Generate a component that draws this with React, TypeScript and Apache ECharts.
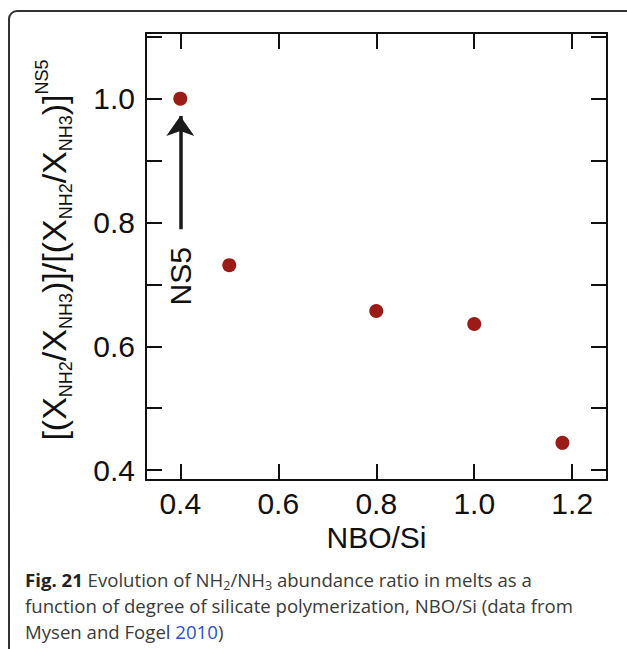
import React, { useEffect, useRef } from "react";
import * as echarts from "echarts";

// Data
const nboSi = [0.4, 0.5, 0.8, 1.0, 1.18];
const ratio = [1.0, 0.731, 0.657, 0.636, 0.444];
const xTickLabels = ["0.4", "0.6", "0.8", "1.0", "1.2"];
const yTickLabels = ["0.4", "0.6", "0.8", "1.0"];
const refLabel = "NS5";
const refX = 0.4;
const arrowFromY = 0.789;
const arrowToY = 0.972;
const refLabelY = 0.713;

const FONT = "'Liberation Sans', Arial, Helvetica, sans-serif";
const CAP_FONT = "'Open Sans', 'Noto Sans', sans-serif";

export default function App() {
  const ref = useRef<HTMLDivElement>(null);
  useEffect(() => {
    const chart = echarts.init(ref.current as HTMLDivElement, null, { renderer: "svg" });
    const xMin = 0.33, xMax = 1.271, yMin = 0.384, yMax = 1.106;
    const fmt = (list: string[]) => (v: number) => {
      const s = v.toFixed(1);
      return list.includes(s) && Math.abs(v - Number(s)) < 1e-6 ? s : "";
    };
    const axisLine = { show: true, lineStyle: { color: "#111", width: 2 } };
    const axisTick = { show: true, inside: true, length: 16, lineStyle: { color: "#111", width: 2 } };
    const labelStyle = { fontSize: 30, fontFamily: FONT, color: "#111" };

    chart.setOption({
      animation: false,
      backgroundColor: "#fff",
      grid: { left: 146, right: 20, top: 33, bottom: 169 },
      xAxis: [
        {
          type: "value", position: "bottom", min: xMin, max: xMax, splitNumber: 5,
          axisLine, axisTick, splitLine: { show: false },
          axisLabel: { ...labelStyle, margin: 8, formatter: fmt(xTickLabels) },
          name: "NBO/Si", nameLocation: "middle", nameGap: 33,
          nameTextStyle: { fontSize: 30, fontFamily: FONT, color: "#111" },
        },
        {
          type: "value", position: "top", min: xMin, max: xMax, splitNumber: 5,
          axisLine, axisTick, splitLine: { show: false }, axisLabel: { show: false },
        },
      ],
      yAxis: [
        {
          type: "value", position: "left", min: yMin, max: yMax, splitNumber: 7,
          axisLine, axisTick, splitLine: { show: false },
          axisLabel: { ...labelStyle, margin: 11, formatter: fmt(yTickLabels) },
        },
        {
          type: "value", position: "right", min: yMin, max: yMax, splitNumber: 7,
          axisLine, axisTick, splitLine: { show: false }, axisLabel: { show: false },
        },
      ],
      series: [
        {
          type: "scatter",
          data: nboSi.map((x, i) => [x, ratio[i]]),
          symbol: "circle",
          symbolSize: 14,
          itemStyle: { color: "#9b1c17", opacity: 1 },
          silent: true,
          markLine: {
            silent: true,
            symbol: ["none", "arrow"],
            symbolSize: [21, 20],
            lineStyle: { color: "#1a1a1a", width: 3.5, type: "solid" },
            label: { show: false },
            emphasis: { disabled: true },
            data: [[{ coord: [refX, arrowFromY] }, { coord: [refX, arrowToY] }]],
          },
          markPoint: {
            silent: true,
            symbol: "circle",
            symbolSize: 0,
            label: {
              show: true, formatter: refLabel, rotate: 90, fontSize: 30,
              fontFamily: FONT, color: "#111", position: "inside",
            },
            data: [{ coord: [refX, refLabelY] }],
          },
        },
      ],
      graphic: [
        {
          type: "rect", silent: true, z: -10,
          shape: { x: 9, y: 11, width: 700, height: 700, r: 8 },
          style: { fill: "none", stroke: "#333", lineWidth: 2 },
        },
        {
          type: "text", x: 54, y: 250, rotation: Math.PI / 2, silent: true,
          style: {
            text: "[(X{sub|NH2}/X{sub|NH3})]/[(X{sub|NH2}/X{sub|NH3})]{sup|NS5}",
            fontSize: 34, fontFamily: FONT, fill: "#111", lineHeight: 42,
            align: "center", verticalAlign: "middle",
            rich: {
              sub: { fontSize: 18, lineHeight: 19, verticalAlign: "bottom", fontFamily: FONT, fill: "#111" },
              sup: { fontSize: 18, lineHeight: 26, verticalAlign: "top", fontFamily: FONT, fill: "#111" },
            },
          },
        },
        {
          type: "text", x: 25, y: 566, silent: true,
          style: {
            text:
              "{b|Fig. 21} Evolution of NH{s|2}/NH{s|3} abundance ratio in melts as a\n" +
              "function of degree of silicate polymerization, NBO/Si (data from\n" +
              "Mysen and Fogel {l|2010})",
            fontSize: 18.6, fontFamily: CAP_FONT, fill: "#3a3a3a", lineHeight: 26,
            align: "left", verticalAlign: "top",
            rich: {
              b: { fontSize: 18.6, fontWeight: "bold", fontFamily: CAP_FONT, fill: "#222", lineHeight: 26 },
              s: { fontSize: 12.5, lineHeight: 16, verticalAlign: "bottom", fontFamily: CAP_FONT, fill: "#3a3a3a" },
              l: { fontSize: 18.6, fontFamily: CAP_FONT, fill: "#2b4fd6", lineHeight: 26 },
            },
          },
        },
      ],
    });
    return () => chart.dispose();
  }, []);
  return <div ref={ref} style={{ position: "absolute", left: 0, top: 0, width: 627, height: 649 }} />;
}
